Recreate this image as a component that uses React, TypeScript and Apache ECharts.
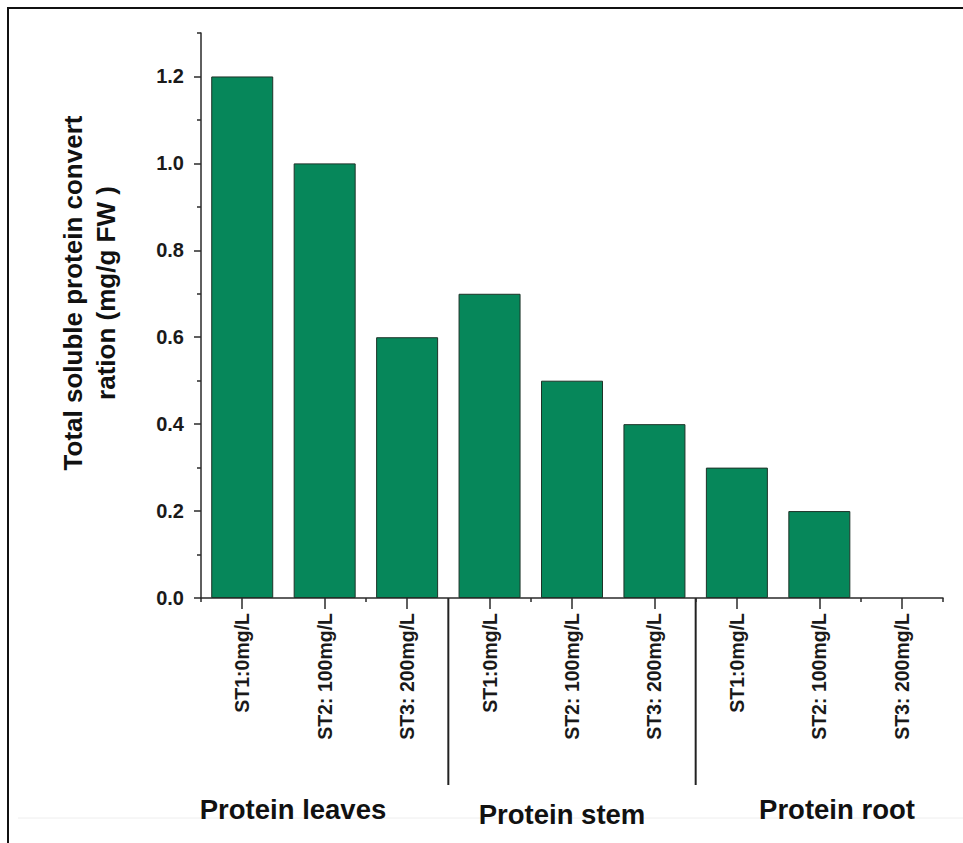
import React, { useEffect, useRef } from "react";
import * as echarts from "echarts";

const categories = [
  "ST1:0mg/L", "ST2: 100mg/L", "ST3: 200mg/L",
  "ST1:0mg/L", "ST2: 100mg/L", "ST3: 200mg/L",
  "ST1:0mg/L", "ST2: 100mg/L", "ST3: 200mg/L",
];
const values = [1.2, 1.0, 0.6, 0.7, 0.5, 0.4, 0.3, 0.2, 0];
const groups = ["Protein leaves", "Protein stem", "Protein root"];
const yMajorTicks = [0, 0.2, 0.4, 0.6, 0.8, 1.0, 1.2];
const yMinorTicks = [0.1, 0.3, 0.5, 0.7, 0.9, 1.1, 1.3];
const yMax = 1.3;
const yName = "Total soluble protein convert\nration (mg/g FW )";

const FONT = 'Arial, "Liberation Sans", Helvetica, sans-serif';
const GRID = { left: 201, right: 20, top: 33, bottom: 245 };

export default function App() {
  const ref = useRef<HTMLDivElement>(null);
  useEffect(() => {
    if (!ref.current) return;
    const chart = echarts.init(ref.current, null, { renderer: "svg" });
    const option: any = {
      animation: false,
      backgroundColor: "#ffffff",
      grid: { ...GRID, containLabel: false },
      xAxis: [
        {
          type: "category",
          data: categories,
          position: "bottom",
          axisLine: { show: true, lineStyle: { color: "#2a2a2a", width: 1.5 } },
          axisTick: { show: true, alignWithLabel: true, length: 11, lineStyle: { color: "#2a2a2a", width: 1.5 } },
          axisLabel: {
            rotate: 90,
            margin: 15,
            interval: 0,
            color: "#1a1a1a",
            fontFamily: FONT,
            fontWeight: "bold",
            fontSize: 19.5,
          },
        },
        {
          type: "category",
          data: categories,
          position: "bottom",
          axisLine: { show: false },
          axisTick: { show: true, length: 4, lineStyle: { color: "#2a2a2a", width: 1.5 } },
          axisLabel: { show: false },
        },
      ],
      yAxis: [
        {
          type: "value",
          min: 0,
          max: yMax,
          interval: 0.1,
          position: "left",
          splitLine: { show: false },
          axisLine: { show: true, lineStyle: { color: "#2a2a2a", width: 1.5 } },
          axisTick: { show: true, length: 7, customValues: yMajorTicks, lineStyle: { color: "#2a2a2a", width: 1.5 } },
          axisLabel: {
            customValues: yMajorTicks,
            formatter: (v: number) => v.toFixed(1),
            margin: 17,
            color: "#1a1a1a",
            fontFamily: FONT,
            fontWeight: "bold",
            fontSize: 20,
          },
        },
        {
          type: "value",
          min: 0,
          max: yMax,
          interval: 0.1,
          position: "left",
          splitLine: { show: false },
          axisLine: { show: false },
          axisTick: { show: true, length: 4, customValues: yMinorTicks, lineStyle: { color: "#2a2a2a", width: 1.5 } },
          axisLabel: { show: false },
        },
      ],
      series: [
        {
          type: "bar",
          xAxisIndex: 0,
          yAxisIndex: 0,
          data: values.map((v) => (v === 0 ? { value: v, itemStyle: { borderWidth: 0 } } : v)),
          barWidth: 62,
          itemStyle: { color: "#06875a", borderColor: "#1e3328", borderWidth: 1 },
        },
      ],
    };
    chart.setOption(option);

    const px = (i: number) => (chart.convertToPixel({ xAxisIndex: 0 }, i) as number);
    const y0 = chart.convertToPixel({ yAxisIndex: 0 }, 0) as number;
    const b1 = (px(2) + px(3)) / 2;
    const b2 = (px(5) + px(6)) / 2;
    const lineStyle = { stroke: "#222", lineWidth: 2 };
    const textStyle = (t: string, size: number) => ({
      text: t,
      fontFamily: FONT,
      fontWeight: "bold",
      fontSize: size,
      fill: "#111",
      align: "center",
      verticalAlign: "middle",
    });

    chart.setOption({
      graphic: [
        { type: "line", shape: { x1: 7, y1: 8, x2: 963, y2: 8 }, style: { stroke: "#111", lineWidth: 2 } },
        { type: "line", shape: { x1: 8, y1: 7, x2: 8, y2: 843 }, style: { stroke: "#111", lineWidth: 2 } },
        { type: "line", shape: { x1: 18, y1: 818, x2: 963, y2: 818 }, style: { stroke: "#eeeeee", lineWidth: 1 } },
        { type: "line", shape: { x1: b1, y1: y0, x2: b1, y2: 785 }, style: lineStyle },
        { type: "line", shape: { x1: b2, y1: y0, x2: b2, y2: 785 }, style: lineStyle },
        { type: "text", x: 293, y: 809, style: textStyle(groups[0], 27.5) },
        { type: "text", x: 562, y: 814, style: textStyle(groups[1], 27.5) },
        { type: "text", x: 837, y: 809, style: textStyle(groups[2], 27.5) },
        {
          type: "text",
          x: 89,
          y: 293,
          rotation: Math.PI / 2,
          style: { ...textStyle(yName, 26), lineHeight: 33 },
        },
      ],
    });

    return () => chart.dispose();
  }, []);

  return (
    <div
      ref={ref}
      style={{ position: "fixed", left: 0, top: 0, width: 963, height: 843, background: "#fff" }}
    />
  );
}
